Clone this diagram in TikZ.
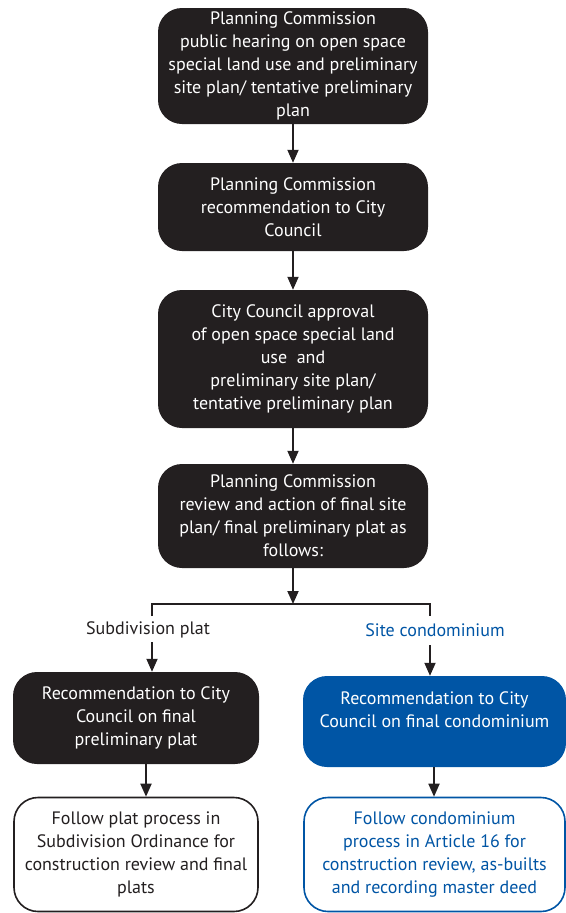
\documentclass[tikz,border=0pt]{standalone}
\usepackage{fontspec}
\setmainfont{PT Sans}
\usetikzlibrary{arrows.meta}
\definecolor{boxblack}{HTML}{231F20}
\definecolor{condoblue}{HTML}{0055A5}
\begin{document}
\begin{tikzpicture}[
        x=1pt, y=-1pt,
        >={Triangle[length=13pt,width=11pt]},
        darkbox/.style={rectangle, rounded corners=24pt, fill=boxblack, text=white, align=center, minimum width=270pt, font=\fontsize{18}{23}\selectfont},
        bluebox/.style={darkbox, fill=condoblue, minimum width=263pt},
        openbox/.style={rectangle, rounded corners=24pt, draw=boxblack, line width=1.6pt, fill=white, text=boxblack, align=center, minimum width=244pt, font=\fontsize{18}{23}\selectfont},
        link/.style={->, line width=1.8pt, draw=boxblack}
    ]
    \useasboundingbox (0,0) rectangle (565,913);

    % Blocchi principali
    \node[darkbox, minimum height=116pt] (hearing) at (293,66)
        {Planning Commission\\public hearing on open space\\special land use and preliminary\\site plan/ tentative preliminary\\plan};
    \node[darkbox, minimum height=88pt]  (recomm)  at (293,207)
        {Planning Commission\\recommendation to City\\Council};
    \node[darkbox, minimum height=138pt] (approval) at (293,359)
        {City Council approval\\of open space special land\\use\ \ and\\preliminary site plan/\\tentative preliminary plan};
    \node[darkbox, minimum height=104pt] (review)  at (293,516)
        {Planning Commission\\review and action of final site\\plan/ final preliminary plat as\\follows:};

    % Ramificazione
    \coordinate (split) at (293,604);
    \coordinate (splitL) at (152,604);
    \coordinate (splitR) at (430,604);
    \node[font=\fontsize{18}{20}\selectfont, text=boxblack] (subdiv) at (148,630) {Subdivision plat};
    \node[font=\fontsize{18}{20}\selectfont, text=condoblue] (condo) at (435,630) {Site condominium};

    \node[darkbox, minimum width=246pt, minimum height=92pt] (platrec) at (136,718)
        {Recommendation to City\\Council on final\\preliminary plat};
    \node[bluebox, minimum height=91pt] (condorec) at (434.5,721.5)
        {Recommendation to City\\Council on final condominium\\~};

    \node[openbox, minimum height=114pt] (platfollow) at (136,854.5)
        {Follow plat process in\\Subdivision Ordinance for\\construction review and final\\plats};
    \node[openbox, draw=condoblue, text=condoblue, minimum width=261pt, minimum height=114pt] (condofollow) at (434.5,854.5)
        {Follow condominium\\process in Article 16 for\\construction review, as-builts\\and recording master deed};

    % Collegamenti verticali
    \draw[link] (hearing) -- (recomm);
    \draw[link] (recomm) -- (approval);
    \draw[link] (approval) -- (review);
    \draw[link] (review) -- (split);
    \draw[line width=1.8pt, draw=boxblack] ([yshift=-12pt]splitL) -- (splitL) -- (splitR) -- ([yshift=-12pt]splitR);
    \draw[link] (152,642) -- (platrec.north -| 152,0);
    \draw[link] (430,645) -- (condorec.north -| 430,0);
    \draw[link] (146,764) -- (platfollow.north -| 146,0);
    \draw[link] (434,767) -- (condofollow.north -| 434,0);

    \end{tikzpicture}
\end{document}
